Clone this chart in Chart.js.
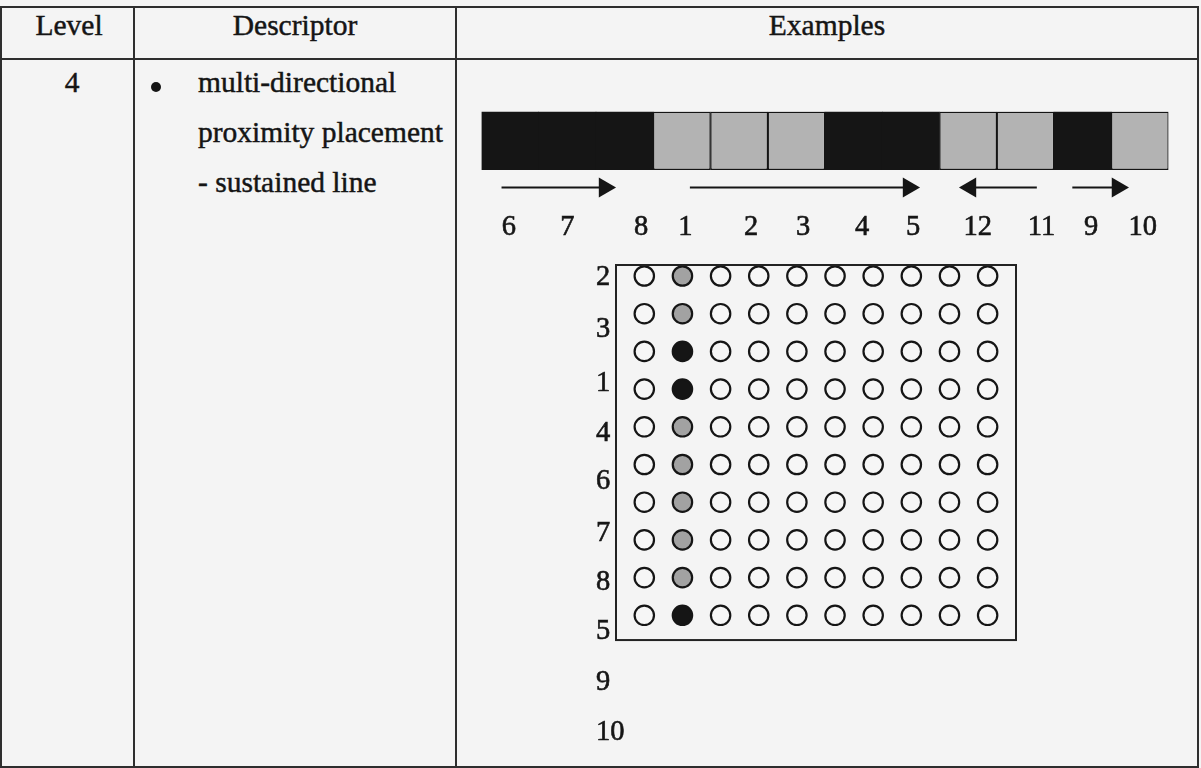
<!DOCTYPE html>
<html lang="en">
<head>
<meta charset="UTF-8">
<title>Level 4 - multi-directional proximity placement</title>
<style>
  body { margin:0; background:#f4f4f4; width:1201px; height:768px; position:relative; overflow:hidden;
         font-family:"Liberation Serif","Times New Roman",serif; color:#151515; }
  .ln { position:absolute; background:#2e2e2e; }
  .t { position:absolute; font-size:29.5px; line-height:29.5px; white-space:nowrap;
       -webkit-text-stroke:0.45px #151515; }
  .dot { position:absolute; width:10px; height:10px; border-radius:50%; background:#151515; }
  canvas { position:absolute; }
</style>
</head>
<body>
<!-- table frame -->
<div class="ln" style="left:0;top:6px;width:1199px;height:2px"></div>
<div class="ln" style="left:0;top:58px;width:1199px;height:2px"></div>
<div class="ln" style="left:0;top:766px;width:1199px;height:2px"></div>
<div class="ln" style="left:0;top:6px;width:2px;height:762px"></div>
<div class="ln" style="left:133px;top:6px;width:2px;height:762px"></div>
<div class="ln" style="left:455px;top:6px;width:2px;height:762px"></div>
<div class="ln" style="left:1197px;top:6px;width:2px;height:762px"></div>

<div class="t" style="left:2px;width:134px;top:11px;text-align:center">Level</div>
<div class="t" style="left:134px;width:322px;top:11px;text-align:center">Descriptor</div>
<div class="t" style="left:456px;width:742px;top:11px;text-align:center">Examples</div>

<div class="t" style="left:5px;width:134px;top:68px;text-align:center">4</div>
<div class="dot" style="left:151px;top:82px"></div>
<div class="t" style="left:198px;top:68px">multi-directional</div>
<div class="t" style="left:198px;top:118px">proximity placement</div>
<div class="t" style="left:198px;top:168px">- sustained line</div>

<canvas id="strip" width="710" height="150" style="left:470px;top:100px"></canvas>
<canvas id="grid" width="440" height="510" style="left:590px;top:250px"></canvas>

<script src="https://cdn.jsdelivr.net/npm/chart.js"></script>
<script>
// strip of 12 cells, left to right
const stripLabels = ['6','7','8','1','2','3','4','5','12','11','9','10'];
const stripShades = ['black','black','black','gray','gray','gray','black','black','gray','gray','black','gray'];
const stripLabelPos = [0.48, 1.50, 2.79, 3.56, 4.71, 5.62, 6.65, 7.54, 8.67, 9.78, 10.65, 11.55];
// arrows under the strip (cell units), tail -> tip
const arrowFrom = [0.35, 3.64, 9.70, 10.32];
const arrowTo   = [2.35, 7.66, 8.34, 11.31];

// 10 x 10 dot grid
const gridCols = [1,2,3,4,5,6,7,8,9,10];
const gridRows = [1,2,3,4,5,6,7,8,9,10];
const filledCol = 2;
const filledShades = ['gray','gray','black','black','gray','gray','gray','gray','gray','black'];
const rowLabels = ['2','3','1','4','6','7','8','5','9','10'];
const rowLabelPos = [1.03, 2.43, 3.84, 5.19, 6.46, 7.82, 9.12, 10.44, 11.77, 13.12];
const frameBottom = 10.63;

const ink = '#151515';
const shade = { black: ink, gray: '#b3b3b3', empty: '#f6f6f6' };
const dotShade = { black: ink, gray: '#a2a2a2' };
const serif = 'Liberation Serif';

// ---- strip chart ----
const HEAD = 11.5 / 57.36;  // arrow head radius in cell units

const arrowSets = arrowFrom.map((from, i) => {
  const dir = arrowTo[i] > from ? 1 : -1;
  return {
    type: 'line',
    data: [{ x: from, y: -0.3 }, { x: arrowTo[i] - dir * HEAD, y: -0.3 }],
    borderColor: ink,
    borderWidth: 2,
    pointStyle: 'triangle',
    pointRadius: [0, 11.5],
    pointRotation: [0, dir > 0 ? 90 : -90],
    pointBackgroundColor: ink,
    pointBorderWidth: 0,
    xAxisID: 'x'
  };
});

new Chart(document.getElementById('strip'), {
  type: 'bar',
  data: {
    datasets: [{
      data: stripShades.map((s, i) => ({ x: i + 0.5, y: [0, 1] })),
      backgroundColor: stripShades.map(s => shade[s]),
      borderColor: ink,
      // black cells merge into one block, gray cells keep their outline
      borderWidth: stripShades.map(s => s === 'black' ? 0 : 1.5),
      borderSkipped: false,
      barPercentage: 1.01,
      categoryPercentage: 1,
      xAxisID: 'x'
    }, ...arrowSets]
  },
  options: {
    responsive: false,
    animation: false,
    layout: { padding: { left: 10.7, right: 10.7, top: 10, bottom: 0 } },
    plugins: { legend: { display: false }, tooltip: { enabled: false } },
    scales: {
      x: { type: 'linear', min: 0, max: 12, offset: false, display: false, ticks: { stepSize: 1 } },
      xLab: {
        type: 'linear', position: 'bottom', min: 0, max: 12, offset: false,
        grid: { display: false }, border: { display: false },
        afterBuildTicks: s => { s.ticks = stripLabelPos.map(v => ({ value: v })); },
        afterFit: s => { s.height = 45; },
        ticks: {
          padding: -3, color: ink, maxRotation: 0, autoSkip: false,
          textStrokeColor: ink, textStrokeWidth: 0.6,
          font: { family: serif, size: 28.5 },
          callback: (v, i) => stripLabels[i]
        }
      },
      y: { min: -0.6, max: 1, display: false }
    }
  }
});

// ---- dot grid ----
const dots = [];
const dotFill = [];
gridRows.forEach((r, ri) => {
  gridCols.forEach(c => {
    dots.push({ x: c, y: r });
    dotFill.push(c === filledCol ? dotShade[filledShades[ri]] : shade.empty);
  });
});

const framePlugin = {
  id: 'frame',
  afterDatasetsDraw(chart) {
    const { ctx, chartArea: a, scales } = chart;
    const bottom = scales.y.getPixelForValue(frameBottom);
    ctx.save();
    ctx.strokeStyle = '#222';
    ctx.lineWidth = 2;
    ctx.strokeRect(a.left + 1, a.top + 1, a.right - a.left - 2, bottom - a.top);
    ctx.restore();
  }
};

new Chart(document.getElementById('grid'), {
  type: 'scatter',
  data: {
    datasets: [{
      data: dots,
      pointRadius: 9.7,
      pointBorderWidth: 2.2,
      pointBorderColor: ink,
      pointBackgroundColor: dotFill
    }]
  },
  options: {
    responsive: false,
    animation: false,
    layout: { padding: { left: 7, right: 13, top: 14, bottom: 15 } },
    plugins: { legend: { display: false }, tooltip: { enabled: false } },
    scales: {
      x: { type: 'linear', min: 0.232, max: 10.77, display: false },
      y: { type: 'linear', min: 0.682, max: 13.44, reverse: true, display: false },
      yLab: {
        type: 'linear', position: 'left', min: 0.682, max: 13.44, reverse: true,
        grid: { display: false }, border: { display: false },
        afterBuildTicks: s => { s.ticks = rowLabelPos.map(v => ({ value: v })); },
        afterFit: s => { s.width = 18; },
        ticks: {
          mirror: true, padding: -19, color: ink, autoSkip: false,
          textStrokeColor: ink, textStrokeWidth: 0.6,
          font: { family: serif, size: 28.5 },
          callback: (v, i) => rowLabels[i]
        }
      }
    }
  },
  plugins: [framePlugin]
});
</script>
</body>
</html>
